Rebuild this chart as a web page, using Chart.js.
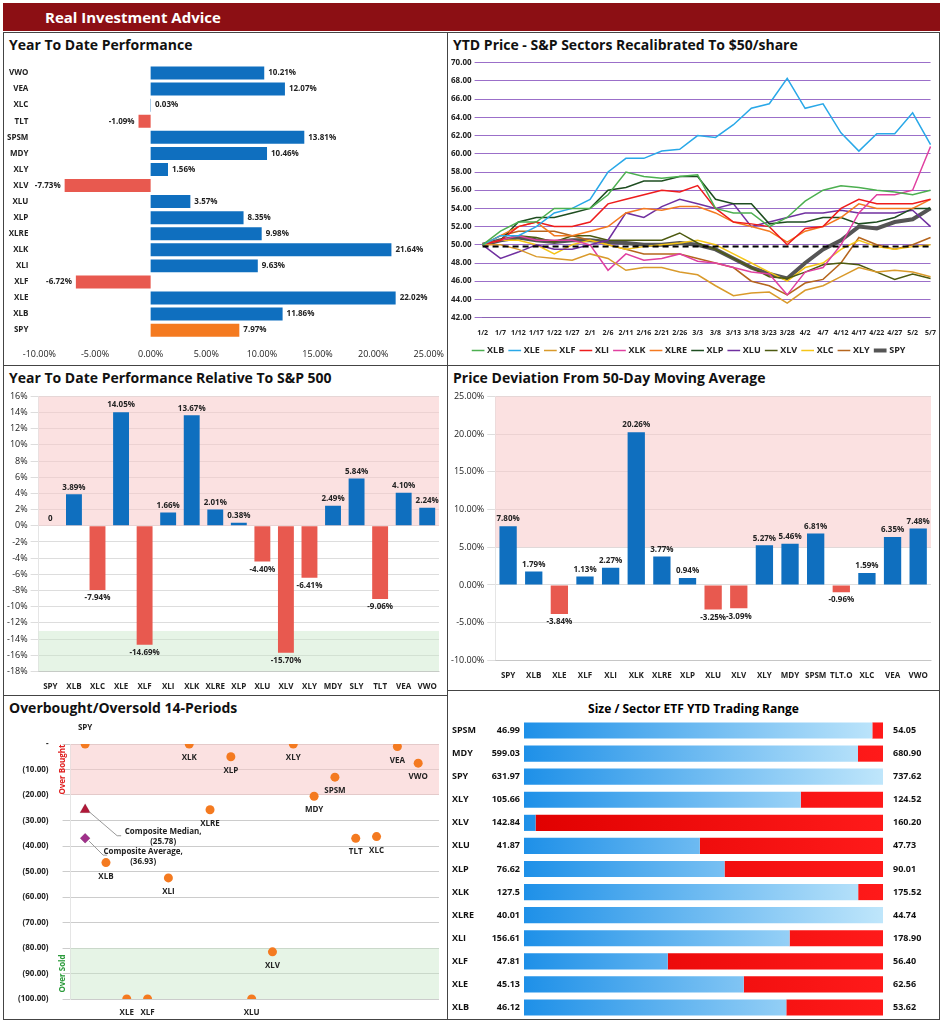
<!DOCTYPE html>
<html><head><meta charset="utf-8">
<script src="https://cdn.jsdelivr.net/npm/chart.js@4"></script>
<style>
body{margin:0;background:#fff;font-family:"Liberation Sans",Arial,sans-serif;}
#hdr{position:absolute;left:3px;top:3px;width:937px;height:28px;background:#8c0f14;color:#fff;font:bold 15px "Open Sans",sans-serif;line-height:28px;}
#hdr span{margin-left:42px}
.p{position:absolute;border:1px solid #444;box-sizing:border-box;}
.t{position:absolute;left:5px;top:2px;font:bold 14px "Open Sans",sans-serif;color:#111;}
.c{position:absolute;}
</style></head><body>
<div id="hdr"><span>Real Investment Advice</span></div>
<div class="p" style="left:3px;top:32px;width:445px;height:334px"><div class="t">Year To Date Performance</div><div class="c" style="left:0;top:24px;width:443px;height:306px"><canvas id="c1"></canvas></div></div>
<div class="p" style="left:447px;top:32px;width:493px;height:334px"><div class="t">YTD Price - S&amp;P Sectors Recalibrated To $50/share</div><div class="c" style="left:0;top:22px;width:491px;height:310px"><canvas id="c2"></canvas></div></div>
<div class="p" style="left:3px;top:365px;width:445px;height:331px"><div class="t">Year To Date Performance Relative To S&amp;P 500</div><div class="c" style="left:0;top:22px;width:443px;height:307px"><canvas id="c3"></canvas></div></div>
<div class="p" style="left:447px;top:365px;width:493px;height:326px"><div class="t">Price Deviation From 50-Day Moving Average</div><div class="c" style="left:0;top:22px;width:491px;height:302px"><canvas id="c4"></canvas></div></div>
<div class="p" style="left:3px;top:695px;width:445px;height:325px"><div class="t">Overbought/Oversold 14-Periods</div><div class="c" style="left:0;top:18px;width:443px;height:305px"><canvas id="c5"></canvas></div></div>
<div class="p" style="left:447px;top:690px;width:493px;height:330px"><div style="position:absolute;left:0;right:0;top:9px;text-align:center;font:bold 12px 'Open Sans',sans-serif">Size / Sector ETF YTD Trading Range</div><div class="c" style="left:0;top:22px;width:491px;height:306px"><canvas id="c6"></canvas></div></div>
<script>
// ---- data ----
const ytdLabels = ["VWO","VEA","XLC","TLT","SPSM","MDY","XLY","XLV","XLU","XLP","XLRE","XLK","XLI","XLF","XLE","XLB","SPY"];
const ytdValues = [10.21,12.07,0.03,-1.09,13.81,10.46,1.56,-7.73,3.57,8.35,9.98,21.64,9.63,-6.72,22.02,11.86,7.97];

const dates = ["1/2","1/7","1/12","1/17","1/22","1/27","2/1","2/6","2/11","2/16","2/21","2/26","3/3","3/8","3/13","3/18","3/23","3/28","4/2","4/7","4/12","4/17","4/22","4/27","5/2","5/7"];
const XLB = [50,51.5,52.5,52.5,54,54,54,55.5,58,57.5,57.3,57.5,57.7,54,53.5,53.5,52,53,54.8,56,56.5,56.3,56,55.8,55.5,56];
const XLE = [50,51,51,52,53.5,54,55,58,59.5,59.5,60.3,60.5,62,61.8,63.2,65,65.5,68.3,65,65.5,62.3,60.3,62.2,62.2,64.5,61];
const XLF = [50,50,49.5,48.7,48.5,48.3,49,48.5,47.2,47.5,47.5,47,46.7,45.5,44.4,44.7,44.8,43.6,45,45.5,46.5,47.5,47,47.2,47,46.5];
const XLI = [50,50.5,52,52.5,52,52,52.5,54.5,55,55.5,56,55.8,56.5,54,52.5,52.3,52,50,51.8,52,54,55,54.5,54.5,54.5,55];
const XLK = [50,50.5,51,50.5,50.5,50.5,50,47.2,49,48.3,48.5,49,48.2,48,47.5,47,46.8,44.5,47,47.5,50,53.5,55.5,55.5,56,60.8];
const XLRE = [50,51,52,52.5,51,51,51.5,52,53.5,54,53.8,54.2,54.2,53.5,52.5,52,51.5,50.3,51.5,52,53,54.5,54,54,54,55];
const XLP = [50,50.5,52.5,53,53,53.5,54,56,56.3,57,57,57.5,57.5,55,54.5,54.5,52.3,52.5,52.5,53,53,52.3,52.5,53,54,54];
const XLU = [50,48.5,49.2,50,49.5,49.5,50,50.5,53.5,53,54.2,55,54.5,54,54.5,52,52.5,53,53.5,53.5,53.8,53.5,53.5,53.5,53.8,52];
const XLV = [50,50.5,51,50.8,50.3,51,51,50.5,50.5,50.5,50.5,51.3,50.2,49.5,48.5,47.5,46.5,46.3,47,47.8,48,47.8,47,46.2,46.8,46.3];
const XLC = [50,50.5,50.5,50,49,50,50.5,50,49.5,49.8,50,50.2,50.5,50,49,48,47,46,47.5,48,49.5,50.5,49.8,49.5,49.8,50];
const XLY = [50,51,51.5,51.5,51.5,51,50.5,50,49.5,49,49,49,48.5,48,47.5,46,45.5,44.5,45.8,46.2,48,50.8,50,49.5,50,50.8];
const SPY = [50,50.5,50.8,50.5,50.3,50.5,50.5,50.3,50.2,50,50,50.2,50,49.5,48.5,47.5,46.8,46.3,48,49.5,50.5,52,51.8,52.5,52.8,54];
const baseLine = 49.8;

const relLabels = ["SPY","XLB","XLC","XLE","XLF","XLI","XLK","XLRE","XLP","XLU","XLV","XLY","MDY","SLY","TLT","VEA","VWO"];
const relValues = [0,3.89,-7.94,14.05,-14.69,1.66,13.67,2.01,0.38,-4.40,-15.70,-6.41,2.49,5.84,-9.06,4.10,2.24];

const devLabels = ["SPY","XLB","XLE","XLF","XLI","XLK","XLRE","XLP","XLU","XLV","XLY","MDY","SPSM","TLT.O","XLC","VEA","VWO"];
const devValues = [7.80,1.79,-3.84,1.13,2.27,20.26,3.77,0.94,-3.25,-3.09,5.27,5.46,6.81,-0.96,1.59,6.35,7.48];

const obLabels = ["SPY","XLB","XLE","XLF","XLI","XLK","XLRE","XLP","XLU","XLV","XLY","MDY","SPSM","TLT","XLC","VEA","VWO"];
const obValues = [0,-46.5,-100,-100,-52.5,0,-25.8,-5,-100,-81.5,0,-20.5,-13,-37,-36.3,-1,-7.5];
const compMedian = -25.78, compAverage = -36.93;

const rngLabels = ["SPSM","MDY","SPY","XLY","XLV","XLU","XLP","XLK","XLRE","XLI","XLF","XLE","XLB"];
const rngLow = [46.99,599.03,631.97,105.66,142.84,41.87,76.62,127.5,40.01,156.61,47.81,45.13,46.12];
const rngHigh = [54.05,680.90,737.62,124.52,160.20,47.73,90.01,175.52,44.74,178.90,56.40,62.56,53.62];
const rngNow = [53.84,675.2,737.62,120.2,143.4,44.74,84.1,172.2,44.74,173.1,51.25,55.8,51.6];

// ---- helpers ----
Chart.defaults.font.family = "'Open Sans', sans-serif";
Chart.defaults.font.size = 9;
Chart.defaults.color = "#222";
Chart.defaults.animation = false;
const BLUE = "#0f6fbf", RED = "#e8594f";

function barLabels(fmt, horiz) {
  return { id: "lbl", afterDatasetsDraw(ch) {
    const c = ch.ctx; c.save(); c.font = "bold 8px 'Open Sans'"; c.fillStyle = "#222";
    ch.getDatasetMeta(0).data.forEach((b, i) => {
      const v = ch.data.datasets[0].data[i];
      if (horiz) {
        c.textBaseline = "middle";
        c.textAlign = v < 0 ? "right" : "left";
        c.fillText(fmt(v), b.x + (v < 0 ? -4 : 4), b.y);
      } else {
        c.textAlign = "center";
        c.textBaseline = v < 0 ? "top" : "bottom";
        c.fillText(fmt(v), b.x, b.y + (v < 0 ? 4 : -3));
      }
    });
    c.restore();
  }};
}
function bands(list) {
  return { id: "bands", beforeDatasetsDraw(ch) {
    const c = ch.ctx, y = ch.scales.y, a = ch.chartArea; c.save();
    list.forEach(([lo, hi, col]) => {
      const y1 = y.getPixelForValue(hi), y2 = y.getPixelForValue(lo);
      c.fillStyle = col; c.fillRect(a.left, y1, a.right - a.left, y2 - y1);
    });
    c.restore();
  }};
}
const PINK = "rgba(248,200,200,0.55)", GREEN = "rgba(200,230,200,0.45)";

// ---- 1: YTD performance ----
new Chart(document.getElementById("c1"), {
  type: "bar",
  data: { labels: ytdLabels, datasets: [{ data: ytdValues,
    backgroundColor: ytdLabels.map((l, i) => l === "SPY" ? "#f47a20" : ytdValues[i] < 0 ? RED : BLUE),
    barPercentage: 0.85, categoryPercentage: 0.95 }] },
  options: { indexAxis: "y", responsive: true, maintainAspectRatio: false,
    layout: { padding: { right: 8, top: 8 } },
    plugins: { legend: { display: false }, tooltip: { enabled: false } },
    scales: {
      x: { min: -10, max: 25, ticks: { stepSize: 5, callback: v => v.toFixed(2) + "%" }, grid: { display: false }, border: { display: false } },
      y: { grid: { display: false }, border: { display: false }, ticks: { font: { weight: "bold", size: 8 } } }
    } },
  plugins: [barLabels(v => v.toFixed(2) + "%", true)]
});

// ---- 2: YTD price lines ----
const lineSeries = [["XLB",XLB,"#4caf50",1.5],["XLE",XLE,"#29a8e8",1.5],["XLF",XLF,"#d99a2b",1.5],["XLI",XLI,"#ee1c1c",1.5],
  ["XLK",XLK,"#e040a0",1.5],["XLRE",XLRE,"#f47a20",1.5],["XLP",XLP,"#1e4d20",1.5],["XLU",XLU,"#7030a0",1.5],
  ["XLV",XLV,"#4d5a10",1.5],["XLC",XLC,"#f5c518",1.5],["XLY",XLY,"#b5651d",1.5],["SPY",SPY,"#555555",4]];
new Chart(document.getElementById("c2"), {
  type: "line",
  data: { labels: dates, datasets: lineSeries.map(([n, d, col, w]) => ({ label: n, data: d, borderColor: col, backgroundColor: col, borderWidth: w, pointRadius: 0, tension: 0 })) },
  options: { responsive: true, maintainAspectRatio: false,
    layout: { padding: { right: 8, top: 4 } },
    plugins: { tooltip: { enabled: false },
      legend: { position: "bottom", labels: { usePointStyle: true, pointStyle: "line", boxWidth: 18, padding: 6, font: { weight: "bold", size: 9 } } } },
    scales: {
      y: { min: 42, max: 70, ticks: { stepSize: 2, callback: v => v.toFixed(2), font: { weight: "bold", size: 8 } }, grid: { color: "#9b6fc9" }, border: { display: false } },
      x: { grid: { display: false }, ticks: { autoSkip: false, maxRotation: 0, font: { weight: "bold", size: 7 } } }
    } },
  plugins: [{ id: "base", afterDatasetsDraw(ch) {
    const c = ch.ctx, a = ch.chartArea, y = ch.scales.y.getPixelForValue(baseLine);
    c.save(); c.setLineDash([6, 4]); c.strokeStyle = "#000"; c.lineWidth = 2;
    c.beginPath(); c.moveTo(a.left, y); c.lineTo(a.right, y); c.stroke(); c.restore();
  } }]
});

// ---- 3: relative to S&P ----
new Chart(document.getElementById("c3"), {
  type: "bar",
  data: { labels: relLabels, datasets: [{ data: relValues, backgroundColor: relValues.map(v => v < 0 ? RED : BLUE), barPercentage: 0.75, categoryPercentage: 0.9 }] },
  options: { responsive: true, maintainAspectRatio: false,
    layout: { padding: { right: 8, top: 4 } },
    plugins: { legend: { display: false }, tooltip: { enabled: false } },
    scales: {
      y: { min: -18, max: 16, ticks: { stepSize: 2, callback: v => v + "%" }, grid: { color: "#ddd" } },
      x: { grid: { display: false }, ticks: { maxRotation: 0, autoSkip: false, font: { weight: "bold", size: 8 } } }
    } },
  plugins: [bands([[0, 16, PINK], [-18, -13, GREEN]]), barLabels(v => v === 0 ? "0" : v.toFixed(2) + "%", false)]
});

// ---- 4: deviation from 50 DMA ----
new Chart(document.getElementById("c4"), {
  type: "bar",
  data: { labels: devLabels, datasets: [{ data: devValues, backgroundColor: devValues.map(v => v < 0 ? RED : BLUE), barPercentage: 0.75, categoryPercentage: 0.9 }] },
  options: { responsive: true, maintainAspectRatio: false,
    layout: { padding: { right: 8, top: 8, bottom: 6 } },
    plugins: { legend: { display: false }, tooltip: { enabled: false } },
    scales: {
      y: { min: -10, max: 25, ticks: { stepSize: 5, callback: v => v.toFixed(2) + "%" }, grid: { color: "#ddd" } },
      x: { grid: { display: false }, ticks: { maxRotation: 0, autoSkip: false, font: { weight: "bold", size: 8 } } }
    } },
  plugins: [bands([[5, 25, PINK]]), barLabels(v => v.toFixed(2) + "%", false)]
});

// ---- 5: overbought / oversold ----
new Chart(document.getElementById("c5"), {
  type: "scatter",
  data: { datasets: [
    { data: obValues.map((v, i) => ({ x: i + 1, y: v })), backgroundColor: "#f47a20", pointRadius: 4.5, pointBorderWidth: 0 },
    { data: [{ x: 1, y: compMedian }], backgroundColor: "#b01838", pointStyle: "triangle", pointRadius: 6 },
    { data: [{ x: 1, y: compAverage }], backgroundColor: "#a0308a", pointStyle: "rectRot", pointRadius: 5 }
  ] },
  options: { responsive: true, maintainAspectRatio: false,
    layout: { padding: { right: 8, top: 30, bottom: 20 } },
    plugins: { legend: { display: false }, tooltip: { enabled: false } },
    scales: {
      x: { min: 0.3, max: 18, display: false },
      y: { min: -100, max: 0, ticks: { stepSize: 10, padding: 14, font: { weight: "bold", size: 8 }, callback: v => v === 0 ? "-" : "(" + Math.abs(v).toFixed(2) + ")" }, grid: { color: "#ccc" } }
    } },
  plugins: [bands([[-20, 0, PINK], [-100, -80, GREEN]]), { id: "obl", afterDatasetsDraw(ch) {
    const c = ch.ctx, xs = ch.scales.x, ys = ch.scales.y, a = ch.chartArea;
    c.save(); c.font = "bold 8px 'Open Sans'"; c.fillStyle = "#222"; c.textAlign = "center";
    obLabels.forEach((l, i) => {
      const x = xs.getPixelForValue(i + 1), y = ys.getPixelForValue(obValues[i]);
      if (l === "SPY") c.fillText(l, x, y - 14); else c.fillText(l, x, y + 16);
    });
    const mx = xs.getPixelForValue(1), my = ys.getPixelForValue(compMedian), ay = ys.getPixelForValue(compAverage);
    c.strokeStyle = "#999"; c.lineWidth = 1;
    c.beginPath(); c.moveTo(mx + 4, my + 2); c.lineTo(mx + 32, my + 26); c.lineTo(mx + 36, my + 26); c.stroke();
    c.beginPath(); c.moveTo(mx + 4, ay + 3); c.lineTo(mx + 18, ay + 17); c.lineTo(mx + 22, ay + 17); c.stroke();
    c.fillText("Composite Median,", mx + 78, my + 24); c.fillText("(" + Math.abs(compMedian).toFixed(2) + ")", mx + 78, my + 34);
    c.fillText("Composite Average,", mx + 58, ay + 16); c.fillText("(" + Math.abs(compAverage).toFixed(2) + ")", mx + 58, ay + 26);
    c.save(); c.translate(a.left - 6, ys.getPixelForValue(-10)); c.rotate(-Math.PI / 2); c.fillStyle = "#e02020"; c.fillText("Over Bought", 0, 0); c.restore();
    c.save(); c.translate(a.left - 6, ys.getPixelForValue(-90)); c.rotate(-Math.PI / 2); c.fillStyle = "#2a9a3a"; c.fillText("Over Sold", 0, 0); c.restore();
    c.restore();
  } }]
});

// ---- 6: trading range ----
const pctNow = rngNow.map((v, i) => (v - rngLow[i]) / (rngHigh[i] - rngLow[i]) * 100);
new Chart(document.getElementById("c6"), {
  type: "bar",
  data: { labels: rngLabels, datasets: [
    { data: pctNow, barPercentage: 0.7, categoryPercentage: 1,
      backgroundColor: ctx => { const ch = ctx.chart, a = ch.chartArea; if (!a) return "#2196f3";
        const g = ch.ctx.createLinearGradient(a.left, 0, a.right, 0); g.addColorStop(0, "#1e90e8"); g.addColorStop(1, "#bfe6fb"); return g; } },
    { data: pctNow.map(p => 100 - p), barPercentage: 0.7, categoryPercentage: 1,
      backgroundColor: ctx => { const ch = ctx.chart, a = ch.chartArea; if (!a) return "#f00";
        const g = ch.ctx.createLinearGradient(a.left, 0, a.right, 0); g.addColorStop(0, "#e00000"); g.addColorStop(1, "#ff1a1a"); return g; } }
  ] },
  options: { indexAxis: "y", responsive: true, maintainAspectRatio: false,
    layout: { padding: { left: 76, right: 56, top: 6 } },
    plugins: { legend: { display: false }, tooltip: { enabled: false } },
    scales: { x: { stacked: true, min: 0, max: 100, display: false }, y: { stacked: true, display: false } } },
  plugins: [{ id: "rl", afterDatasetsDraw(ch) {
    const c = ch.ctx, a = ch.chartArea; c.save(); c.font = "bold 9px 'Open Sans'"; c.fillStyle = "#111"; c.textBaseline = "middle";
    ch.getDatasetMeta(0).data.forEach((b, i) => {
      c.textAlign = "left"; c.fillText(rngLabels[i], 4, b.y);
      c.textAlign = "right"; c.fillText(String(rngLow[i]), a.left - 4, b.y);
      c.textAlign = "left"; c.fillText(rngHigh[i].toFixed(2), a.right + 10, b.y);
    });
    c.restore();
  } }]
});
</script>
</body></html>
